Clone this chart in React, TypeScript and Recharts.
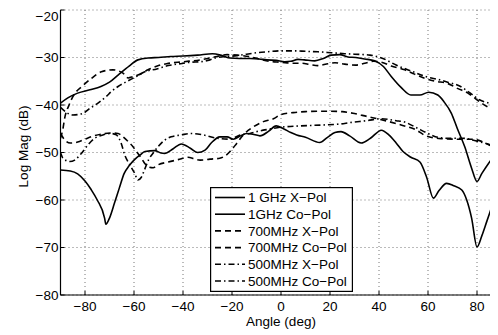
import { LineChart, Line, XAxis, YAxis, CartesianGrid } from 'recharts';

const FONT = '"Liberation Sans", Arial, Helvetica, sans-serif';

const X_TICKS = [-80, -60, -40, -20, 0, 20, 40, 60, 80];
const Y_TICKS = [-80, -70, -60, -50, -40, -30, -20];

// 1 GHz X-Pol (solid, lower)
const ANG_1G_X = [-90, -86, -83, -80, -77.5, -75, -72, -71.5, -70, -68, -66, -64, -62, -60, -57.5, -55.5, -51.5, -49, -47.5, -44, -40.7, -37, -34, -31, -28.5, -25, -22, -19.5, -16.5, -14, -11, -8.6, -5, -2, 1, 4, 6.4, 10, 15.8, 19, 22, 24.5, 28, 32.7, 36.5, 41, 44, 47, 49.8, 53, 56.7, 59.5, 62.2, 64.5, 67.6, 70.5, 73.8, 75.8, 77.8, 80, 82, 84, 86, 88, 90];
const VAL_1G_X = [-53.7, -53.9, -54.5, -56, -57.8, -60, -63.8, -65.1, -63.8, -60.7, -57.5, -54.4, -52.8, -51.6, -50.5, -49.8, -49.6, -50.1, -50.2, -49.2, -48.2, -49.1, -50, -49.5, -48, -46.7, -46.7, -47.2, -46.5, -46, -46.2, -46.5, -45.5, -44.4, -45, -45.8, -46.3, -46.8, -47.9, -46.8, -45.8, -45.6, -46.5, -48, -47, -45.3, -46.3, -48, -49.8, -51, -52, -55.3, -59.6, -58, -56.5, -57, -57.9, -60, -63.8, -69.9, -67.5, -64.5, -61.5, -58.5, -56];

// 1GHz Co-Pol (solid, upper)
const ANG_1G_CO = [-90, -87, -83, -78, -73.5, -70, -66.5, -62, -58.4, -54, -50, -45, -40, -34, -28, -24, -20.8, -17, -12.7, -9, -5.8, -2, 1.5, 4, 6.9, 9.5, 13.8, 17.3, 20.5, 24, 27.3, 30.5, 34.2, 38.2, 41.8, 45, 49, 53, 56.7, 60.3, 64, 66.5, 69.5, 72, 75, 77.8, 80, 82, 84.7, 88, 90];
const VAL_1G_CO = [-39.6, -38.5, -37.5, -36.8, -36.1, -35.2, -33.7, -31.8, -30.5, -30.1, -30, -29.8, -29.7, -29.5, -29.2, -29.6, -30.1, -30.2, -30.2, -30.3, -30.5, -30.6, -30.9, -30.8, -30.4, -30.5, -30.7, -30.2, -29.5, -29.4, -29.9, -30, -30.3, -30.7, -31.9, -34, -36.3, -37.9, -37.9, -37.3, -37.9, -39.3, -41.7, -45, -48.8, -53.3, -56.1, -54.4, -52.3, -50.2, -49.2];

// 700MHz X-Pol (dashed, lower)
const ANG_700_X = [-90, -88.5, -86, -83, -80, -77, -73, -69, -66.5, -64.5, -62.4, -60.4, -59, -57, -55.6, -54.3, -52.2, -50.2, -46, -42, -38, -35, -33, -29, -25, -22.5, -20.8, -18.1, -15.4, -11.3, -7.2, -3.1, 0, 5, 10, 17.8, 25, 30, 35, 41, 47, 51, 55, 58.7, 62, 66, 72, 78, 81, 85, 90];
const VAL_700_X = [-46, -47.2, -48, -47.8, -47.2, -46.6, -46.1, -45.9, -46, -46.7, -47.7, -48.8, -49.8, -51.2, -52.3, -53, -53.2, -52.6, -52, -51.5, -51, -51.4, -51.6, -51.4, -51.2, -50.6, -49.8, -48.1, -46.3, -44.6, -43.5, -42.9, -42, -41.6, -41.4, -41.3, -41.4, -41.8, -42.4, -43.1, -43.9, -44.5, -45.2, -46.4, -46.9, -47.1, -47.2, -47.2, -47.5, -48.4, -49.7];

// 700MHz Co-Pol (dashed, upper)
const ANG_700_CO = [-90, -89, -88.3, -86.5, -84.9, -80.8, -77.4, -73.3, -68.6, -64.5, -62.4, -60.3, -58.4, -54.3, -50, -46.7, -40, -33, -26.2, -22, -18, -13, -9, -5, 0, 5, 8.3, 12, 15, 19.2, 22, 26, 30.5, 34.2, 37.7, 41, 45, 50.5, 54.5, 58.7, 63, 68.2, 72, 76.3, 79, 81.8, 85, 88.6, 90];
const VAL_700_CO = [-47, -45, -42.8, -40, -38.2, -35.9, -34.4, -33, -32.6, -33.3, -34.3, -34, -33.7, -32.6, -31.7, -31.3, -30.9, -30.5, -29.8, -29.4, -29.5, -29.8, -30.3, -30.8, -31, -31.2, -31.2, -31.5, -31.7, -31.3, -31.1, -31.4, -31.6, -31.2, -30.8, -31, -31.8, -32.6, -33.5, -34.4, -35, -35.5, -36.5, -37.5, -38.5, -39.6, -40.6, -41.6, -42];

// 500MHz X-Pol (dash-dot, lower)
const ANG_500_X = [-90, -89, -86.2, -84.2, -81.5, -78.8, -76, -72.7, -69.3, -67.2, -65.2, -63.8, -61.7, -59.7, -58.4, -57, -55.6, -54, -52, -50.2, -47.5, -44.8, -40.7, -37, -34, -31.7, -26.2, -20.8, -16.7, -12.7, -9.9, -5, -0.4, 7.8, 17.3, 24.1, 28.2, 35, 41, 47, 50.5, 55, 60, 64, 68, 74, 80, 85, 90];
const VAL_500_X = [-50, -51.2, -51.9, -51.6, -50.2, -48.4, -47, -46.3, -46, -46.3, -48.1, -50.5, -52.6, -54.4, -55.8, -55.2, -53.5, -51.5, -50, -48.8, -47.4, -46.7, -46.3, -46, -46.1, -46.3, -47, -47.2, -46.3, -46, -45.6, -45.1, -44.7, -44.4, -44.2, -44, -43.7, -43.3, -42.9, -43.3, -43.6, -44.7, -46, -46.8, -47, -47, -47.6, -48.3, -49];

// 500MHz Co-Pol (dash-dot, upper)
const ANG_500_CO = [-90, -88, -85, -81, -78, -74.7, -71.3, -69.3, -66.5, -63.1, -59.1, -55.6, -50.7, -46, -41, -37, -33, -29, -26, -22, -18, -14, -10, -5.8, 0, 5.7, 10, 15.1, 20.7, 26, 30, 36.3, 41.6, 47, 53.9, 59, 64.7, 68, 72.9, 77, 81, 85, 88.6, 90];
const VAL_500_CO = [-40.5, -41.4, -42.1, -41.8, -40.7, -39.6, -38.2, -37.2, -36.1, -35.1, -34, -33, -32.4, -31.7, -31.3, -31, -30.9, -30.5, -30, -29.8, -29.6, -29.3, -29, -28.8, -28.6, -28.6, -28.7, -28.8, -29, -29.2, -29.3, -29.5, -30.2, -31.6, -33, -34, -34.7, -35.2, -36, -37.4, -38.9, -39.6, -40, -40.3];

const DASH = '6 4';
const DASHDOT = '6 3 1.5 3';

const toPts = (a: number[], v: number[]) => a.map((x, i) => ({ a: x, v: v[i] }));

const SERIES = [
  { name: '1 GHz X\u2212Pol', data: toPts(ANG_1G_X, VAL_1G_X), dash: undefined },
  { name: '1GHz Co\u2212Pol', data: toPts(ANG_1G_CO, VAL_1G_CO), dash: undefined },
  { name: '700MHz X\u2212Pol', data: toPts(ANG_700_X, VAL_700_X), dash: DASH },
  { name: '700MHz Co\u2212Pol', data: toPts(ANG_700_CO, VAL_700_CO), dash: DASH },
  { name: '500MHz X\u2212Pol', data: toPts(ANG_500_X, VAL_500_X), dash: DASHDOT },
  { name: '500MHz Co\u2212Pol', data: toPts(ANG_500_CO, VAL_500_CO), dash: DASHDOT },
];

const fmt = (v: number) => String(v).replace('-', '\u2212');

const tickStyle = { fill: '#000', fontSize: 13.5, fontFamily: FONT };

const renderYLabel = () => (
  <text
    x={19.5}
    y={138.5}
    transform="rotate(-90, 19.5, 138.5)"
    textAnchor="middle"
    fill="#000"
    fontSize={13.5}
    fontFamily={FONT}
  >
    Log Mag (dB)
  </text>
);

function LegendBox() {
  return (
    <svg width={144} height={106} style={{ position: 'absolute', left: 202, top: 179 }}>
      <rect x={0.6} y={0.6} width={141.8} height={103.8} fill="#fff" stroke="#000" strokeWidth={1.2} />
      {SERIES.map((s, i) => {
        const y = 10.5 + i * 16.7;
        return (
          <g key={s.name}>
            <line x1={5} x2={35} y1={y} y2={y} stroke="#000" strokeWidth={1.6} strokeDasharray={s.dash} />
            <text x={38} y={y + 4.8} fontSize={13.5} fontFamily={FONT} fill="#000">
              {s.name}
            </text>
          </g>
        );
      })}
    </svg>
  );
}

export default function App() {
  return (
    <div style={{ width: 490, height: 327, overflow: 'hidden', position: 'relative', background: '#fff' }}>
      <LineChart width={500} height={327} margin={{ top: 2, right: 6.5, bottom: 0, left: 2.5 }}>
        <CartesianGrid stroke="#777" strokeDasharray="1 3" />
        <XAxis
          type="number"
          dataKey="a"
          domain={[-90, 90]}
          ticks={X_TICKS}
          allowDataOverflow
          height={40}
          tickSize={-4}
          tickMargin={10}
          tick={tickStyle}
          tickFormatter={fmt}
          axisLine={{ stroke: '#000', strokeWidth: 1.2 }}
          tickLine={{ stroke: '#000' }}
          label={{ value: 'Angle (deg)', position: 'insideBottom', offset: 9.5, fill: '#000', fontSize: 13.5, fontFamily: FONT }}
        />
        <XAxis
          xAxisId="top"
          orientation="top"
          type="number"
          domain={[-90, 90]}
          ticks={X_TICKS}
          allowDataOverflow
          height={0}
          tickSize={-4}
          tick={false}
          axisLine={{ stroke: '#000', strokeWidth: 1.2 }}
          tickLine={{ stroke: '#000' }}
        />
        <YAxis
          type="number"
          domain={[-80, -20]}
          ticks={Y_TICKS}
          allowDataOverflow
          width={50}
          tickSize={-4}
          tickMargin={6}
          tick={tickStyle}
          tickFormatter={fmt}
          axisLine={{ stroke: '#000', strokeWidth: 1.2 }}
          tickLine={{ stroke: '#000' }}
          label={renderYLabel}
        />
        {SERIES.map((s) => (
          <Line
            key={s.name}
            data={s.data}
            dataKey="v"
            name={s.name}
            type="monotone"
            stroke="#000"
            strokeWidth={1.6}
            strokeDasharray={s.dash}
            dot={false}
            activeDot={false}
            isAnimationActive={false}
          />
        ))}
      </LineChart>
      <LegendBox />
    </div>
  );
}
